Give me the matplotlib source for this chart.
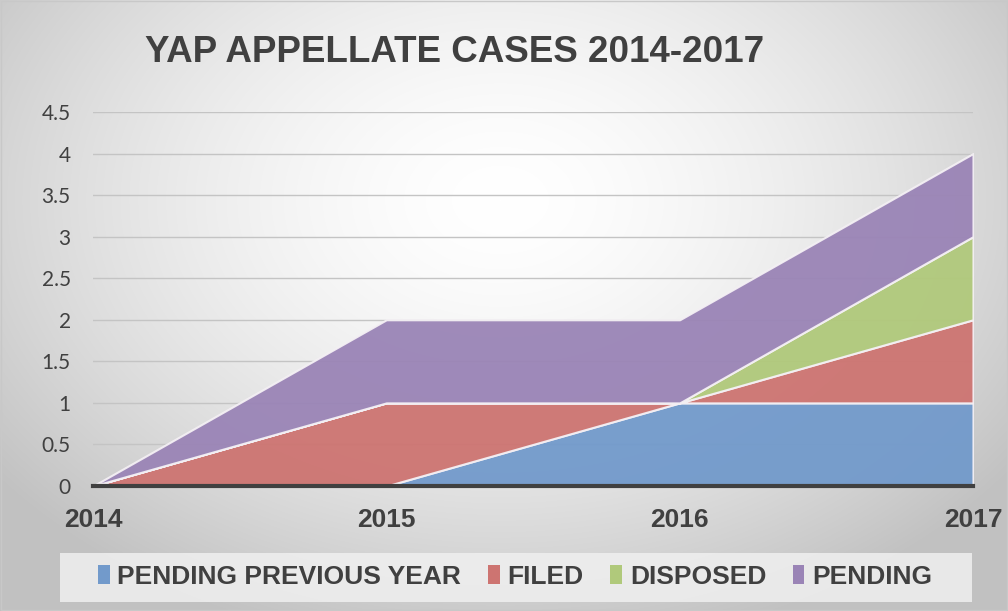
import numpy as np
import matplotlib
matplotlib.use("Agg")
import matplotlib.pyplot as plt
from matplotlib.patches import Rectangle, Patch

years = ["2014", "2015", "2016", "2017"]
pending_prev = [0, 0, 1, 1]
filed = [0, 1, 0, 1]
disposed = [0, 0, 0, 1]
pending = [0, 1, 1, 1]
series_names = ["PENDING PREVIOUS YEAR", "FILED", "DISPOSED", "PENDING"]
colors = ["#729acb", "#cd7471", "#b0c97b", "#9a84b6"]
yticks = [0, 0.5, 1, 1.5, 2, 2.5, 3, 3.5, 4, 4.5]
ytick_labels = ["0", "0.5", "1", "1.5", "2", "2.5", "3", "3.5", "4", "4.5"]
title = "YAP APPELLATE CASES 2014-2017"

fig = plt.figure(figsize=(10.08, 6.11), dpi=100)

# radial gradient background
bg = fig.add_axes([0, 0, 1, 1], zorder=-10)
H, W = 611, 1008
yy, xx = np.mgrid[0:H, 0:W]
cx, cy = 500, 200
r = np.sqrt(((xx - cx) / 600.0) ** 2 + ((yy - cy) / 430.0) ** 2)
r = np.clip(r, 0, 1.2)
val = 1.0 - 0.22 * r ** 1.6
val = np.clip(val, 0.76, 1)
img = np.dstack([val, val, val])
bg.imshow(img, extent=[0, 1, 0, 1], aspect="auto", origin="upper")
bg.set_xlim(0, 1); bg.set_ylim(0, 1)
bg.axis("off")
bg.add_patch(Rectangle((0.001, 0.001), 0.998, 0.998, fill=False, edgecolor="#c8c8c8", lw=1))

# legend box
bg.add_patch(Rectangle((60 / W, 1 - 602 / H), (972 - 60) / W, (602 - 553) / H,
                       facecolor="#f0f0f0", edgecolor="none", alpha=0.85))

ax = fig.add_axes([93 / W, 1 - 486 / H, (973 - 93) / W, (486 - 112) / H])
ax.patch.set_alpha(0)
x = np.arange(len(years))
data = [pending_prev, filed, disposed, pending]
ax.stackplot(x, *data, colors=colors, alpha=0.95, zorder=2,
             edgecolor="#f4f0f4", linewidth=1.5)

ax.set_xlim(0, len(years) - 1)
ax.set_ylim(0, 4.5)
ax.set_yticks(yticks)
ax.set_yticklabels(ytick_labels, family="Lato", fontsize=15, color="#404040")
ax.set_xticks(x)
ax.set_xticklabels(years, family="Liberation Sans", fontweight="bold", fontsize=19, color="#404040")
ax.tick_params(axis="both", length=0)
ax.tick_params(axis="y", pad=16)
ax.tick_params(axis="x", pad=16)
ax.grid(axis="y", color="#c4c4c4", lw=1, zorder=1)
ax.set_axisbelow(True)
for s in ax.spines.values():
    s.set_visible(False)
ax.axhline(0, color="#404040", lw=3, zorder=3, clip_on=False)

fig.text(455 / W, 1 - 53 / H, title, ha="center", va="center",
         family="Liberation Sans", fontweight="bold", fontsize=26.5, color="#404040")

handles = [Patch(facecolor=c, edgecolor="none") for c in colors]
leg = fig.legend(handles, series_names, loc="center", bbox_to_anchor=(515 / W, 1 - 577 / H),
                 ncol=4, frameon=False, handlelength=0.45, handleheight=0.75,
                 handletextpad=0.3, columnspacing=1.0,
                 prop={"family": "Liberation Sans", "weight": "bold", "size": 19})
for t in leg.get_texts():
    t.set_color("#404040")

fig.savefig("out.png", dpi=100)
